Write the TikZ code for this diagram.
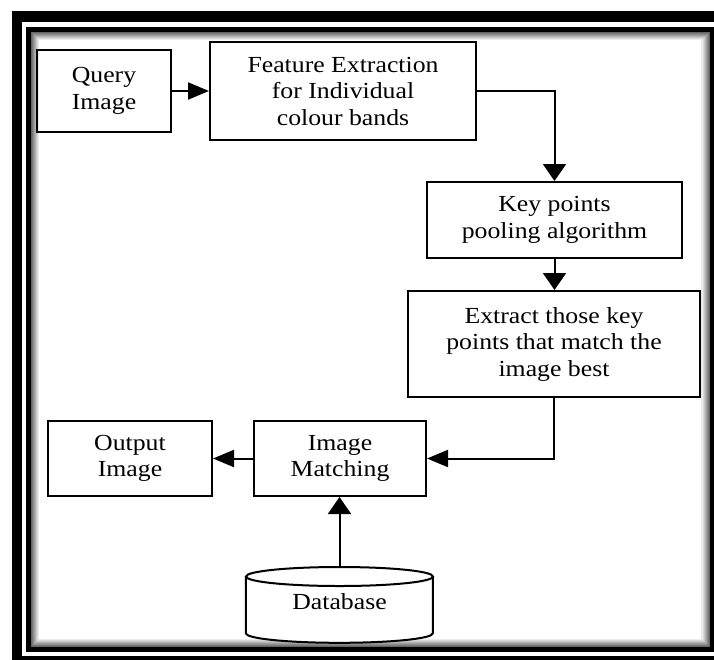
\documentclass[tikz,border=0pt]{standalone}
\usepackage{fontspec}
\setmainfont[FakeStretch=1.12]{Liberation Serif}
\usetikzlibrary{arrows.meta}
\begin{document}
\begin{tikzpicture}[x=1pt,y=-1pt,
  box/.style={draw=black, line width=2pt, align=center, inner sep=0pt,
    font=\fontsize{23}{26.5}\selectfont},
  harrow/.style={line width=2pt, -{Triangle[length=21pt,width=17pt]}},
  varrow/.style={line width=2pt, -{Triangle[length=17pt,width=23pt]}},
  lbl/.style={inner sep=0pt, font=\fontsize{23}{26.5}\selectfont}]
\useasboundingbox (0,0) rectangle (714,659);
\clip (0,0) rectangle (714,659);
\fill[white] (0,0) rectangle (714,659);
% frame
\draw[line width=10.5pt] (17,16.5) rectangle (722,661);
\draw[line width=5pt] (28.5,29.5) rectangle (712,649.5);
\foreach \i in {0,...,7}{
  \pgfmathsetmacro{\g}{60-7.5*\i}
  \draw[line width=1.05pt, black!\g] (31.5+\i,32.5+\i) rectangle (709-\i,646.5-\i);
}
% boxes
\node[box, minimum width=134pt, minimum height=82pt] (q) at (104,91) {Query\\Image};
\node[box, minimum width=266pt, minimum height=98pt] (f) at (343,91) {Feature Extraction\\for Individual\\colour bands};
\node[box, minimum width=255pt, minimum height=76pt] (k) at (554.5,220) {Key points\\pooling algorithm};
\node[box, minimum width=292pt, minimum height=106pt] (e) at (554,344) {Extract those key\\points that match the\\image best};
\node[box, minimum width=164pt, minimum height=75pt] (o) at (130,458.5) {Output\\Image};
\node[box, minimum width=172pt, minimum height=75pt] (m) at (340,458.5) {Image\\Matching};
% database cylinder
\node[inner sep=0pt, minimum width=187pt, minimum height=76pt] (db) at (339.5,605) {};
\draw[line width=2pt, fill=white] (db.north west) ++(0,9.5) -- ++(0,57)
  arc[start angle=180, end angle=360, x radius=93.5pt, y radius=9.5pt] -- ++(0,-57);
\draw[line width=2pt] (339.5,576.5) ellipse[x radius=93.5pt, y radius=9.5pt];
\node[lbl] (dbl) at (339.5,602) {Database};
% connectors
\draw[harrow] (q.east) -- (f.west);
\draw[varrow] (f.east) -- (k.north |- f.east) -- (k.north);
\draw[varrow] (k.south) -- (k.south |- e.north);
\draw[harrow] (e.south) -- (e.south |- m.east) -- (m.east);
\draw[harrow] (m.west) -- (o.east);
\draw[varrow] (db.north) -- (db.north |- m.south);
\end{tikzpicture}
\end{document}
